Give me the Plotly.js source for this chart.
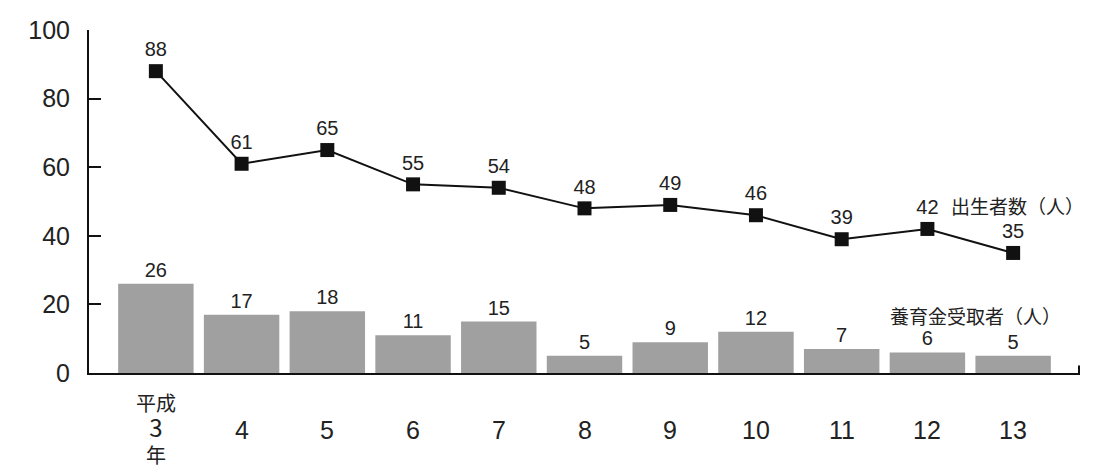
<!DOCTYPE html>
<html><head><meta charset="utf-8">
<script src="https://cdn.plot.ly/plotly-3.0.1.min.js"></script>
<style>html,body{margin:0;padding:0;background:#fff;}#chart{width:1097px;height:473px;}</style>
</head><body><div id="chart"></div>
<script>
const categories = ["3","4","5","6","7","8","9","10","11","12","13"];
const tickLabels = ["平成<br><span style=\"font-size:24px\">3</span><br>年","4","5","6","7","8","9","10","11","12","13"];
const births = [88,61,65,55,54,48,49,46,39,42,35];
const recipients = [26,17,18,11,15,5,9,12,7,6,5];
const birthsName = "出生者数（人）";
const recipientsName = "養育金受取者（人）";

const fontNum = "Liberation Sans, Arial, sans-serif";
const fontCJK = "Noto Sans CJK JP, sans-serif";

const traces = [
  {type:'bar', x:categories, y:recipients, name:recipientsName,
   marker:{color:'#a0a0a0'}, width:0.88,
   text:recipients.map(String), textposition:'outside', cliponaxis:false,
   textfont:{family:fontNum, size:20, color:'#222'}},
  {type:'scatter', mode:'lines+markers+text', x:categories, y:births, name:birthsName,
   line:{color:'#111', width:2}, marker:{symbol:'square', size:14, color:'#111'},
   text:births.map(String), textposition:'top center', cliponaxis:false,
   textfont:{family:fontNum, size:20, color:'#222'}}
];

const annotations = tickLabels.map((t,i)=>({
  x:i, y:0, xref:'x', yref:'paper', yanchor:'middle',
  yshift: i===0 ? -55 : -57,
  text:t, showarrow:false, align:'center',
  font: i===0 ? {family:fontCJK, size:20, color:'#222'} : {family:fontNum, size:25, color:'#222'}
}));
annotations.push({x:1, xref:'paper', y:0.487, yref:'paper', xanchor:'right', yanchor:'middle', xshift:6,
  text:birthsName, showarrow:false, font:{family:fontCJK, size:19, color:'#222'}});
annotations.push({x:0.975, xref:'paper', y:0.169, yref:'paper', xanchor:'right', yanchor:'middle', xshift:8,
  text:recipientsName, showarrow:false, font:{family:fontCJK, size:19, color:'#222'}});

const layout = {
  width:1097, height:473,
  margin:{l:89, r:17, t:30, b:100},
  paper_bgcolor:'#fff', plot_bgcolor:'#fff',
  showlegend:false, bargap:0.12,
  xaxis:{type:'category', range:[-0.78,10.78], showticklabels:false, ticks:'',
         showline:true, linecolor:'#111', linewidth:2, showgrid:false, zeroline:false},
  yaxis:{range:[0,100], tickvals:[0,20,40,60,80,100], ticks:'inside', ticklen:12, tickwidth:2, tickcolor:'#111',
         showline:true, linecolor:'#111', linewidth:2, showgrid:false, zeroline:false,
         tickfont:{family:fontNum, size:25, color:'#222'}, ticklabelstandoff:12},
  annotations:annotations,
  shapes:[{type:'line', xref:'paper', yref:'paper', x0:0.999, x1:0.999, y0:0, y1:0.022,
           line:{color:'#111', width:2}}]
};
Plotly.newPlot('chart', traces, layout, {displayModeBar:false});
</script></body></html>
